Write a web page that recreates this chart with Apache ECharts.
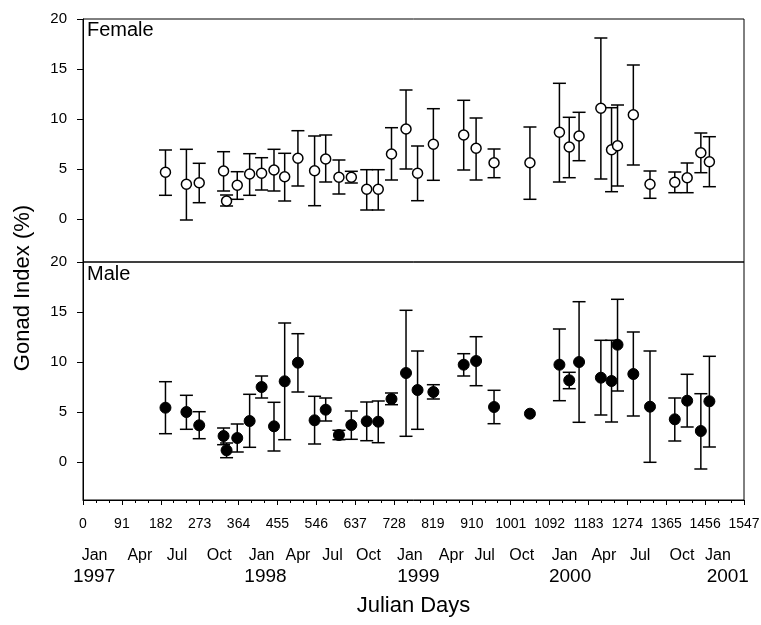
<!DOCTYPE html>
<html>
<head>
<meta charset="utf-8">
<title>Gonad Index</title>
<script src="https://cdn.jsdelivr.net/npm/echarts@6/dist/echarts.min.js"></script>
<style>
  body { margin: 0; background: #fff; }
  #chart { width: 761px; height: 625px; }
</style>
</head>
<body>
<div id="chart"></div>
<script>
// sampling days (Julian days from 1 Jan 1997), shared by both panels
var days = [193, 242, 272, 329, 336, 361, 390, 418, 447, 472, 503, 542, 568, 599, 628, 664, 691, 722, 756,
  783, 820, 891, 920, 962, 1046, 1115, 1138, 1161, 1212, 1237, 1251, 1288, 1327, 1385, 1414, 1446, 1466];

var femaleMean = [4.67, 3.47, 3.63, 4.8, 1.8, 3.37, 4.5, 4.57, 4.9, 4.23, 6.07, 4.83, 6.0, 4.17, 4.17, 2.97, 2.97, 6.5, 9.0,
  4.57, 7.47, 8.4, 7.07, 5.63, 5.63, 8.67, 7.2, 8.3, 11.07, 6.93, 7.33, 10.43, 3.47, 3.67, 4.13, 6.63, 5.73];
var femaleHi = [6.9, 6.97, 5.57, 6.73, 2.4, 4.73, 6.53, 6.13, 6.97, 6.57, 8.83, 8.3, 8.4, 5.9, 4.77, 4.93, 4.93, 9.13, 12.9,
  7.3, 11.03, 11.87, 10.1, 7.0, 9.2, 13.57, 10.17, 10.67, 18.1, 11.13, 11.4, 15.4, 4.8, 4.7, 5.6, 8.6, 8.23];
var femaleLo = [2.37, -0.1, 1.63, 2.8, 1.3, 1.97, 2.37, 2.9, 2.8, 1.8, 3.3, 1.33, 3.7, 2.5, 3.6, 0.9, 0.9, 3.9, 5.0,
  1.83, 3.87, 4.9, 3.9, 4.13, 1.97, 3.7, 4.13, 5.83, 4.0, 2.73, 3.3, 5.4, 2.07, 2.63, 2.63, 4.63, 3.23];

var maleMean = [5.43, 5.0, 3.67, 2.6, 1.17, 2.4, 4.1, 7.5, 3.57, 8.07, 9.93, 4.17, 5.23, 2.7, 3.7, 4.07, 4.03, 6.3, 8.9,
  7.2, 7.0, 9.73, 10.1, 5.5, 4.83, 9.73, 8.17, 10.0, 8.43, 8.1, 11.73, 8.8, 5.53, 4.27, 6.13, 3.1, 6.07];
var maleHi = [8.03, 6.67, 5.03, 3.4, 1.9, 3.8, 6.77, 8.6, 5.97, 13.9, 12.83, 6.57, 6.4, 3.17, 5.1, 6.0, 6.1, 6.9, 15.17,
  11.1, 7.73, 10.83, 12.53, 7.17, null, 13.3, 8.97, 16.03, 12.17, 12.17, 16.27, 13.0, 11.1, 6.4, 8.77, 6.83, 10.57];
var maleLo = [2.83, 3.27, 2.33, 1.73, 0.43, 1.0, 1.47, 6.4, 1.1, 2.23, 7.0, 1.8, 4.1, 2.23, 2.27, 2.13, 1.93, 5.73, 2.57,
  3.27, 6.3, 8.6, 7.63, 3.83, null, 6.13, 7.33, 3.97, 4.7, 4.0, 7.1, 4.6, -0.03, 2.1, 3.5, -0.7, 1.5];

// axis labels
var yTicks = [0, 5, 10, 15, 20];
var monthNames = ['Jan', 'Apr', 'Jul', 'Oct', 'Jan', 'Apr', 'Jul', 'Oct', 'Jan', 'Apr', 'Jul', 'Oct', 'Jan', 'Apr', 'Jul', 'Oct', 'Jan'];
var monthPos = [27, 133, 220, 319, 418, 503, 584, 668, 765, 862, 940, 1027, 1127, 1219, 1304, 1402, 1486];
var yearNames = ['1997', '1998', '1999', '2000', '2001'];
var yearPos = [26, 427, 785, 1140, 1509];

var font = 'Liberation Sans, Arial, sans-serif';

var makeBars = function(lo, hi) {
  var out = [];
  for (var i = 0; i < days.length; ++i) {
    out.push([days[i], lo[i], hi[i]]);
  }
  return out;
};
var makePoints = function(mean) {
  var out = [];
  for (var i = 0; i < days.length; ++i) {
    out.push([days[i], mean[i]]);
  }
  return out;
};

var renderBar = function(params, api) {
  var lo = api.value(1), hi = api.value(2);
  if (isNaN(lo) || isNaN(hi)) {
    return null;
  }
  var top = api.coord([api.value(0), hi]);
  var bot = api.coord([api.value(0), lo]);
  var w = 6.5;
  var st = { stroke: '#000', lineWidth: 1.5 };
  return {
    type: 'group',
    children: [
      { type: 'line', shape: { x1: top[0], y1: top[1], x2: bot[0], y2: bot[1] }, style: st },
      { type: 'line', shape: { x1: top[0] - w, y1: top[1], x2: top[0] + w, y2: top[1] }, style: st },
      { type: 'line', shape: { x1: bot[0] - w, y1: bot[1], x2: bot[0] + w, y2: bot[1] }, style: st }
    ]
  };
};

var yAxisBase = function(idx, min) {
  return {
    type: 'value',
    gridIndex: idx,
    min: min,
    max: 20,
    axisLine: { show: true, lineStyle: { color: '#000', width: 1 } },
    axisTick: { show: true, inside: false, length: 6, customValues: yTicks, lineStyle: { color: '#000' } },
    axisLabel: { customValues: yTicks, margin: 16, color: '#000', fontSize: 15, fontFamily: font },
    splitLine: { show: false }
  };
};

var myChart = echarts.init(document.getElementById('chart'), null, { renderer: 'canvas' });
var option = {
  animation: false,
  backgroundColor: '#fff',
  title: [
    { text: 'Female', left: 87, top: 20, padding: 0, textStyle: { fontSize: 20, fontWeight: 'normal', color: '#000', fontFamily: font } },
    { text: 'Male', left: 87, top: 264, padding: 0, textStyle: { fontSize: 20, fontWeight: 'normal', color: '#000', fontFamily: font } }
  ],
  grid: [
    { left: 83, right: 17, top: 19, height: 243, show: true, borderColor: '#000', borderWidth: 1,
      backgroundColor: 'transparent', outerBoundsMode: 'none', containLabel: false },
    { left: 83, right: 17, top: 262, height: 238, show: true, borderColor: '#000', borderWidth: 1,
      backgroundColor: 'transparent', outerBoundsMode: 'none', containLabel: false }
  ],
  xAxis: [
    { type: 'value', gridIndex: 0, min: 0, max: 1547, interval: 91, show: false },
    {
      type: 'value', gridIndex: 1, position: 'bottom', min: 0, max: 1547, interval: 91,
      name: 'Julian Days', nameLocation: 'middle', nameGap: 95,
      nameTextStyle: { fontSize: 22, color: '#000', fontFamily: font },
      axisLine: { show: true, onZero: false, lineStyle: { color: '#000', width: 1 } },
      axisTick: { show: true, inside: false, length: 5, lineStyle: { color: '#000' } },
      minorTick: { show: true, splitNumber: 3, length: 3, lineStyle: { color: '#000' } },
      axisLabel: {
        margin: 17, color: '#000', fontSize: 14, fontFamily: font, showMinLabel: true, showMaxLabel: true,
        formatter: function(v) { return String(v); }
      },
      splitLine: { show: false }
    },
    {
      type: 'value', gridIndex: 1, position: 'bottom', min: 0, max: 1547,
      axisLine: { show: false, onZero: false }, axisTick: { show: false }, splitLine: { show: false },
      axisLabel: {
        customValues: monthPos, margin: 48, color: '#000', fontSize: 16, fontFamily: font,
        formatter: function(v) { return monthNames[monthPos.indexOf(v)]; }
      }
    },
    {
      type: 'value', gridIndex: 1, position: 'bottom', min: 0, max: 1547,
      axisLine: { show: false, onZero: false }, axisTick: { show: false }, splitLine: { show: false },
      axisLabel: {
        customValues: yearPos, margin: 67, color: '#000', fontSize: 19, fontFamily: font,
        formatter: function(v) { return yearNames[yearPos.indexOf(v)]; }
      }
    }
  ],
  yAxis: [yAxisBase(0, -4.3), yAxisBase(1, -3.8)],
  graphic: [{
    type: 'text',
    x: 23, y: 288,
    rotation: Math.PI / 2,
    style: { text: 'Gonad Index (%)', fill: '#000', font: '22px ' + font, align: 'center', verticalAlign: 'middle' }
  }],
  series: [
    {
      name: 'female sd', type: 'custom', xAxisIndex: 0, yAxisIndex: 0, z: 2,
      renderItem: renderBar, encode: { x: 0, y: [1, 2] }, data: makeBars(femaleLo, femaleHi)
    },
    {
      name: 'female', type: 'scatter', xAxisIndex: 0, yAxisIndex: 0, z: 3,
      symbol: 'circle', symbolSize: 10,
      itemStyle: { color: '#fff', borderColor: '#000', borderWidth: 1.5, opacity: 1 },
      data: makePoints(femaleMean)
    },
    {
      name: 'male sd', type: 'custom', xAxisIndex: 1, yAxisIndex: 1, z: 2,
      renderItem: renderBar, encode: { x: 0, y: [1, 2] }, data: makeBars(maleLo, maleHi)
    },
    {
      name: 'male', type: 'scatter', xAxisIndex: 1, yAxisIndex: 1, z: 3,
      symbol: 'circle', symbolSize: 11,
      itemStyle: { color: '#000', borderColor: '#000', borderWidth: 1, opacity: 1 },
      data: makePoints(maleMean)
    }
  ]
};
myChart.setOption(option);
</script>
</body>
</html>
